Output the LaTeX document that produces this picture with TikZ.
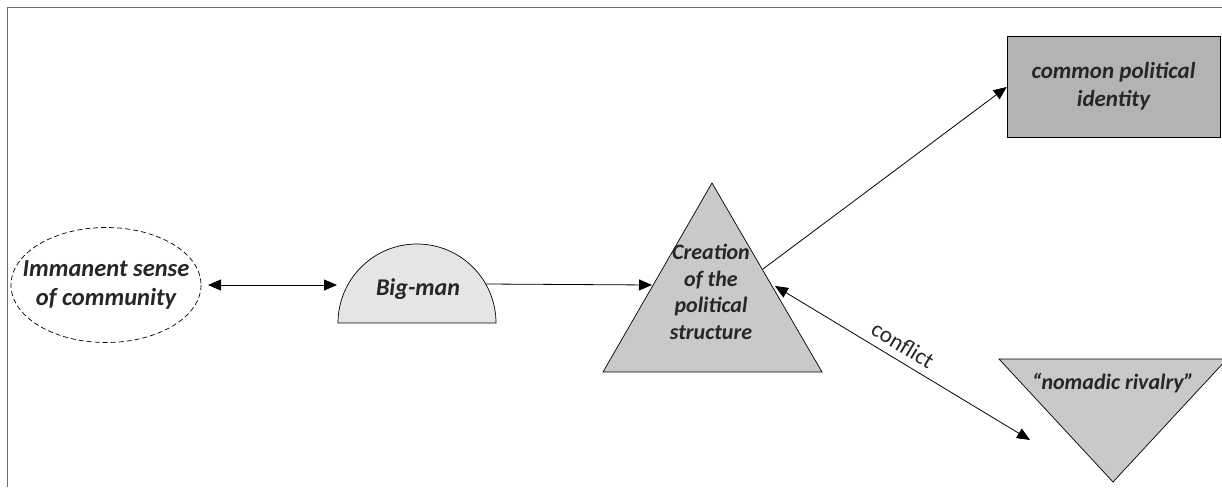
\documentclass[tikz,border=0pt]{standalone}
\usepackage{fontspec}
\setmainfont{Carlito}
\usetikzlibrary{arrows.meta}
\definecolor{inkgray}{HTML}{262626}
\definecolor{framegray}{HTML}{6E6E6E}
\definecolor{lightfill}{HTML}{E4E5E4}
\definecolor{midfill}{HTML}{C9C9C9}
\definecolor{darkfill}{HTML}{B3B3B3}
\tikzset{
  label text/.style={text=inkgray, align=center, font=\bfseries\itshape\fontsize{23}{28}\selectfont},
  shape line/.style={draw=black, line width=0.7pt},
  link/.style={draw=black, line width=0.8pt, -{Triangle[length=13pt,width=11pt]}},
  twoway/.style={link, {Triangle[length=13pt,width=11pt]}-{Triangle[length=13pt,width=11pt]}},
}
\begin{document}
\begin{tikzpicture}[x=1pt,y=-1pt]
\useasboundingbox (0,0) rectangle (1222,487);
% outer frame (only top and left edges fall inside the page)
\draw[framegray, line width=1pt] (7,487) -- (7,8) -- (1222,8);

% dashed ellipse
\draw[draw=black, line width=0.7pt, dash pattern=on 5pt off 3pt]
  (106,285) ellipse[x radius=95, y radius=57.5];
\node[label text, font=\bfseries\itshape\fontsize{24.5}{29}\selectfont] (comm) at (106,285)
      {Immanent sense\\of community};

% half disc
\draw[shape line, fill=lightfill] (338,323) arc[start angle=180, end angle=360, radius=79] -- cycle;
\node[label text, font=\bfseries\itshape\fontsize{24}{29}\selectfont] (big) at (418,289) {Big-man};

% upright triangle
\draw[shape line, fill=midfill] (712,183) -- (822,372) -- (603,372) -- cycle;
\node[label text, font=\bfseries\itshape\fontsize{22}{26.5}\selectfont] (create) at (711,292)
      {Creation\\of the\\political\\structure};

% box
\node[draw=black, line width=0.7pt, fill=darkfill, minimum width=213pt, minimum height=101pt,
      label text] (ident) at (1113.5,86.5) {common political\\identity};

% inverted triangle
\draw[shape line, fill=midfill] (999,359) -- (1227,359) -- (1113,482) -- cycle;
\node[label text, font=\bfseries\itshape\fontsize{22}{26}\selectfont] (nomad) at (1113,383) {“nomadic rivalry”};

% connector end points on the shape borders
\coordinate (commE) at (208,285);
\coordinate (bigW) at (337,285);
\coordinate (bigE) at (486,284);
\coordinate (createW) at (652,285);
\coordinate (createNE) at (763,269);
\coordinate (createE) at (775,286);
\coordinate (nomadW) at (1030,440);

\draw[twoway] (commE) -- (bigW);
\draw[link] (bigE) -- (createW);
\draw[link] (createNE) -- (ident.west |- 0,87) ;
\draw[twoway] (createE) -- node[pos=0.47, sloped, above=4pt, text=inkgray, font=\fontsize{23}{28}\selectfont] (conf) {conflict} (nomadW);
\end{tikzpicture}
\end{document}
